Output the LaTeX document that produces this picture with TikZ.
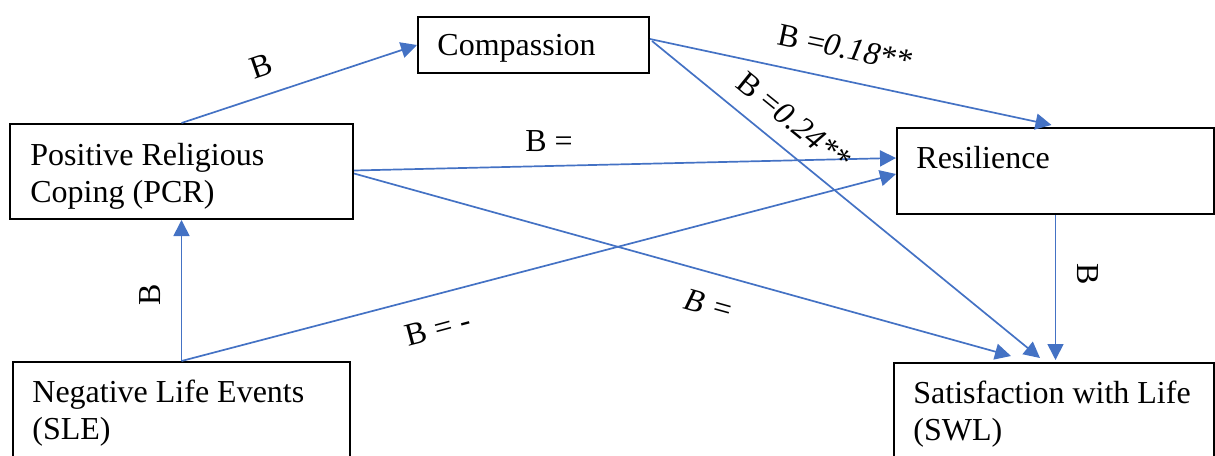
\documentclass[tikz,border=0pt]{standalone}
\usepackage{fontspec}
\setmainfont{Liberation Serif}
\usetikzlibrary{arrows.meta,calc}
\definecolor{linkblue}{RGB}{68,114,196}
\begin{document}
\begin{tikzpicture}[x=0.5pt,y=-0.5pt,
  box/.style={draw=black,line width=1pt,rectangle,inner sep=0pt,anchor=north west},
  txt/.style={anchor=base west,inner sep=0pt,align=left,font=\fontsize{16}{18.5}\selectfont},
  link/.style={draw=linkblue,line width=0.85pt,-{Triangle[length=8pt,width=8pt]}},
  lab/.style={inner sep=0pt,font=\fontsize{16}{18.5}\selectfont}]
\useasboundingbox (0,0) rectangle (1215,455);
\clip (0,0) rectangle (1215,455);

% variable boxes
\node[box,minimum width=115.5pt,minimum height=28pt] (comp) at (417,16) {};
\node[box,minimum width=171.5pt,minimum height=47.5pt] (prc) at (9,123) {};
\node[box,minimum width=158.5pt,minimum height=43pt] (res) at (896,127) {};
\node[box,minimum width=168.5pt,minimum height=60pt] (sle) at (12,361) {};
\node[box,minimum width=160pt,minimum height=60pt] (swl) at (893,362) {};

% box captions
\node[txt] (compT) at (437,55) {Compassion};
\node[txt] (prcT) at (30,202) {Positive Religious\\Coping (PCR)};
\node[txt] (resT) at (916,168) {Resilience};
\node[txt] (sleT) at (32,439) {Negative Life Events\\(SLE)};
\node[txt] (swlT) at (913,440) {Satisfaction with Life\\(SWL)};

% paths
\draw[link] (prc.north) -- (comp.west);
\draw[link] (sle.north) -- (prc.south);
\draw[link] (sle.north) -- ($(res.west)+(0,3)$);
\draw[link] ($(prc.east)+(0,-1)$) -- ($(res.west)+(0,-13)$);
\draw[link] ($(prc.east)+(0,2)$) -- ($(swl.north)+(-43,-6)$);
\draw[link] ($(comp.east)+(0,-6)$) -- ($(res.north)+(-4,-2)$);
\draw[link] ($(comp.east)+(2,-4)$) -- ($(swl.north)+(-14,-4)$);
\draw[link] (res.south) -- ($(res.south |- swl.north)+(0,-2)$);

% path coefficients
\node[lab,rotate=19] (l1) at (261,66) {B};
\node[lab,rotate=90] (l2) at (150,295) {B};
\node[lab,rotate=15] (l3) at (438,328) {B = -};
\node[lab] (l4) at (549,141) {B =};
\node[lab,rotate=-15.5] (l5) at (709,305) {\textit{B =}};
\node[lab,rotate=-12] (l6) at (845,48) {B =\textit{0.18**}};
\node[lab,rotate=-39] (l7) at (794,121) {B =\textit{0.24**}};
\node[lab,rotate=-90] (l8) at (1088,274) {B};
\end{tikzpicture}
\end{document}
